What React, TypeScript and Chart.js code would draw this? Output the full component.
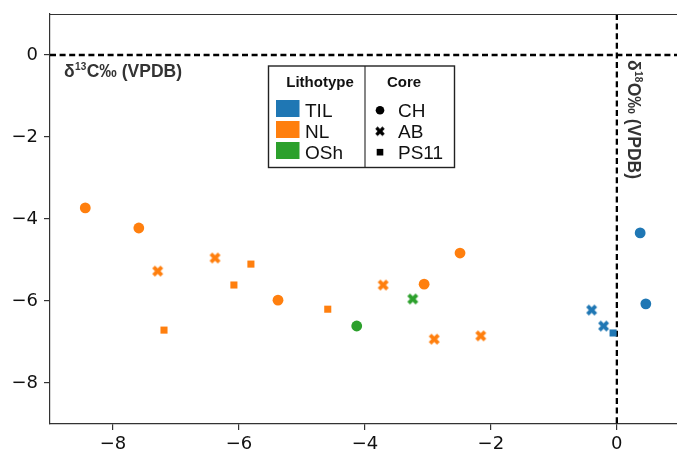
import React, { useEffect, useRef } from "react";
import { Chart, registerables } from "chart.js";

Chart.register(...registerables);

// ---- data ----
const xTicks = [-8, -6, -4, -2, 0];
const yTicks = [0, -2, -4, -6, -8];
const lithotypes = ["TIL", "NL", "OSh"];
const cores = ["CH", "AB", "PS11"];

const tilCH = [[0.37, -4.34], [0.46, -6.07]];
const tilAB = [[-0.40, -6.22], [-0.21, -6.61]];
const tilPS11 = [[-0.06, -6.78]];

const nlCH = [[-8.44, -3.73], [-7.59, -4.22], [-5.38, -5.98], [-3.06, -5.59], [-2.49, -4.83]];
const nlAB = [[-7.29, -5.27], [-6.38, -4.95], [-3.71, -5.61], [-2.90, -6.93], [-2.16, -6.85]];
const nlPS11 = [[-7.19, -6.71], [-6.08, -5.61], [-5.81, -5.10], [-4.59, -6.20]];

const oshCH = [[-4.13, -6.61]];
const oshAB = [[-3.24, -5.95]];

const colors: Record<string, string> = { TIL: "#1f77b4", NL: "#ff7f0e", OSh: "#2ca02c" };

// matplotlib filled "X" marker
const X_VERTS = [
  [-1, -2], [0, -1], [1, -2], [2, -1], [1, 0], [2, 1],
  [1, 2], [0, 1], [-1, 2], [-2, 1], [-1, 0], [-2, -1],
];

function makeX(color: string, size: number): HTMLCanvasElement {
  const c = document.createElement("canvas");
  const n = Math.ceil(size) + 2;
  c.width = n;
  c.height = n;
  const ctx = c.getContext("2d")!;
  ctx.translate(n / 2, n / 2);
  ctx.beginPath();
  X_VERTS.forEach(([vx, vy], i) => {
    const px = (vx / 4) * size;
    const py = (vy / 4) * size;
    if (i === 0) ctx.moveTo(px, py);
    else ctx.lineTo(px, py);
  });
  ctx.closePath();
  ctx.fillStyle = color;
  ctx.fill();
  return c;
}

const fmt = (v: number) => (v < 0 ? "\u2212" + Math.abs(v) : String(v));

function drawIsoLabel(ctx: CanvasRenderingContext2D, x: number, y: number, iso: string, element: string) {
  const big = 'bold 17.5px "Liberation Sans", Arial, sans-serif';
  const small = 'bold 10px "Liberation Sans", Arial, sans-serif';
  ctx.textAlign = "left";
  ctx.textBaseline = "alphabetic";
  ctx.fillStyle = "#333";
  ctx.font = big;
  ctx.fillText("\u03b4", x, y);
  let cx = x + ctx.measureText("\u03b4").width + 0.5;
  ctx.font = small;
  ctx.fillText(iso, cx, y - 7);
  cx += ctx.measureText(iso).width + 0.5;
  ctx.font = big;
  ctx.fillText(element + "\u2030 (VPDB)", cx, y);
}

export default function App() {
  const ref = useRef<HTMLCanvasElement | null>(null);

  useEffect(() => {
    document.body.style.margin = "0";
    const canvas = ref.current!;
    const mk = (litho: string, core: string, pts: number[][]) => {
      const color = colors[litho];
      const base: any = {
        label: litho + " " + core,
        data: pts.map(([x, y]) => ({ x, y })),
        backgroundColor: color,
        borderColor: color,
        borderWidth: 0,
      };
      if (core === "CH") {
        base.pointStyle = "circle";
        base.pointRadius = 5.4;
      } else if (core === "AB") {
        base.pointStyle = makeX(color, 11);
        base.pointRadius = 5;
      } else {
        base.pointStyle = "rect";
        base.pointRadius = 5;
      }
      base.pointHoverRadius = base.pointRadius;
      return base;
    };

    const datasets = [
      mk("NL", "CH", nlCH),
      mk("NL", "AB", nlAB),
      mk("NL", "PS11", nlPS11),
      mk("OSh", "CH", oshCH),
      mk("OSh", "AB", oshAB),
      mk("TIL", "CH", tilCH),
      mk("TIL", "AB", tilAB),
      mk("TIL", "PS11", tilPS11),
    ];

    const overlay = {
      id: "overlay",
      beforeDatasetsDraw(chart: any) {
        const { ctx, chartArea, scales } = chart;
        const x0 = scales.x.getPixelForValue(0);
        const y0 = scales.y.getPixelForValue(0);
        ctx.save();
        ctx.strokeStyle = "#000";
        ctx.lineWidth = 2.3;
        ctx.setLineDash([6, 3.6]);
        ctx.beginPath();
        ctx.moveTo(chartArea.left, y0);
        ctx.lineTo(chartArea.right, y0);
        ctx.stroke();
        ctx.beginPath();
        ctx.moveTo(x0, chartArea.top);
        ctx.lineTo(x0, chartArea.bottom);
        ctx.stroke();
        ctx.restore();
      },
      afterDraw(chart: any) {
        const { ctx, chartArea } = chart;
        ctx.save();
        // top frame line
        ctx.strokeStyle = "#333";
        ctx.lineWidth = 1.2;
        ctx.beginPath();
        ctx.moveTo(chartArea.left, chartArea.top + 0.5);
        ctx.lineTo(chartArea.right, chartArea.top + 0.5);
        ctx.stroke();

        // axis annotation labels
        drawIsoLabel(ctx, 64, 77, "13", "C");
        ctx.save();
        ctx.translate(628, 60);
        ctx.rotate(Math.PI / 2);
        drawIsoLabel(ctx, 0, 0, "18", "O");
        ctx.restore();

        // legend box
        const bx = 268.5, by = 66, bw = 186, bh = 101.5, div = 365;
        ctx.fillStyle = "#fff";
        ctx.fillRect(bx, by, bw, bh);
        ctx.strokeStyle = "#222";
        ctx.lineWidth = 1.4;
        ctx.strokeRect(bx, by, bw, bh);
        ctx.beginPath();
        ctx.moveTo(div, by);
        ctx.lineTo(div, by + bh);
        ctx.lineWidth = 1.1;
        ctx.stroke();

        ctx.fillStyle = "#111";
        ctx.textAlign = "center";
        ctx.textBaseline = "alphabetic";
        ctx.font = 'bold 15px "Liberation Sans", Arial, sans-serif';
        ctx.fillText("Lithotype", 320, 87);
        ctx.fillText("Core", 404, 87);

        const baselines = [117, 138, 159];
        ctx.textAlign = "left";
        ctx.font = '19px "Liberation Sans", Arial, sans-serif';
        lithotypes.forEach((l, i) => {
          const b = baselines[i];
          ctx.fillStyle = colors[l];
          ctx.fillRect(276, b - 17, 23.5, 17);
          ctx.fillStyle = "#111";
          ctx.fillText(l, 305, b);
        });
        cores.forEach((c, i) => {
          const b = baselines[i];
          const cy = b - 6.8;
          ctx.fillStyle = "#000";
          if (c === "CH") {
            ctx.beginPath();
            ctx.arc(380, cy, 4.3, 0, Math.PI * 2);
            ctx.fill();
          } else if (c === "AB") {
            const img = makeX("#000", 9.5);
            ctx.drawImage(img, 380 - img.width / 2, cy - img.height / 2);
          } else {
            ctx.fillRect(380 - 3.3, cy - 3.3, 6.6, 6.6);
          }
          ctx.fillStyle = "#111";
          ctx.fillText(c, 398, b);
        });
        ctx.restore();
      },
    };

    const tickFont = { family: '"DejaVu Sans", sans-serif', size: 18 };

    const chart = new Chart(canvas, {
      type: "scatter",
      data: { datasets },
      options: {
        animation: false,
        responsive: false,
        devicePixelRatio: 1,
        layout: { autoPadding: false, padding: { top: 14, right: 0, left: 0, bottom: 0 } },
        plugins: { legend: { display: false }, tooltip: { enabled: false } },
        scales: {
          x: {
            type: "linear",
            min: -9,
            max: 0.955,
            afterBuildTicks: (s: any) => {
              s.ticks = xTicks.map((v) => ({ value: v }));
            },
            afterFit: (s: any) => {
              s.height = 28;
              s.paddingLeft = 0;
              s.paddingRight = 0;
            },
            ticks: {
              font: tickFont,
              color: "#111",
              padding: 4,
              maxRotation: 0,
              autoSkip: false,
              callback: (v: any) => fmt(Number(v)),
            },
            grid: { drawOnChartArea: false, drawTicks: true, tickLength: 6, color: "#333", lineWidth: 1.2 },
            border: { display: true, color: "#333", width: 1.2 },
          },
          y: {
            type: "linear",
            min: -9,
            max: 1,
            afterBuildTicks: (s: any) => {
              s.ticks = yTicks.map((v) => ({ value: v }));
            },
            afterFit: (s: any) => {
              s.width = 50;
              s.paddingTop = 0;
              s.paddingBottom = 0;
            },
            ticks: {
              font: tickFont,
              color: "#111",
              padding: 6,
              autoSkip: false,
              callback: (v: any) => fmt(Number(v)),
            },
            grid: { drawOnChartArea: false, drawTicks: true, tickLength: 6, color: "#333", lineWidth: 1.2 },
            border: { display: true, color: "#333", width: 1.2 },
          },
        },
      },
      plugins: [overlay],
    } as any);

    return () => chart.destroy();
  }, []);

  return (
    <div style={{ width: 677, height: 452 }}>
      <canvas ref={ref} width={677} height={452} style={{ display: "block", width: 677, height: 452 }} />
    </div>
  );
}
